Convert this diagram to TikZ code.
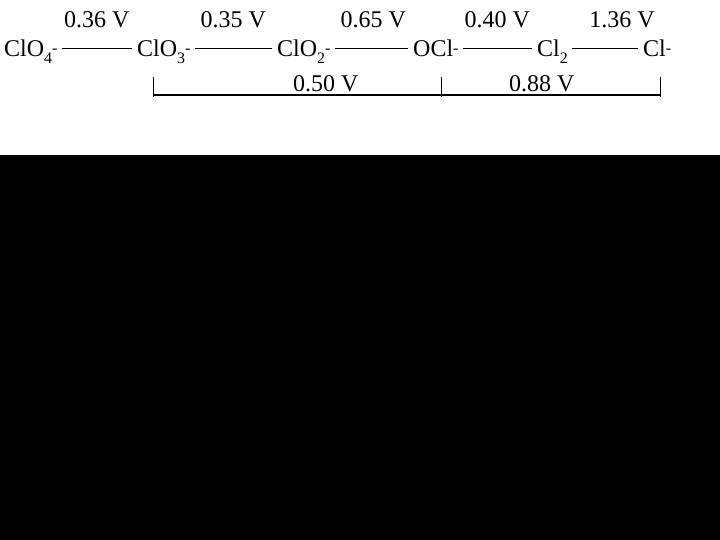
\documentclass[tikz,border=0pt]{standalone}
\usepackage{fontspec}
\setmainfont{Liberation Serif}
\usetikzlibrary{positioning}
\newcommand{\subsc}[1]{\raisebox{-6.5pt}{\fontsize{16}{16}\selectfont #1}}
\newcommand{\supsc}[1]{\raisebox{3.5pt}{\fontsize{16}{16}\selectfont #1}}

\begin{document}
\begin{tikzpicture}[
  x=1pt, y=-1pt,
  species/.style={anchor=base west, inner sep=0pt, font=\fontsize{24}{28}\selectfont},
  pot/.style={anchor=base, inner sep=0pt, font=\fontsize{24}{28}\selectfont},
  bond/.style={line width=0.8pt},
  span/.style={line width=2.6pt},
  tickmark/.style={line width=0.8pt}
]
\useasboundingbox (0,0) rectangle (720,540);
\fill[black] (0,155) rectangle (720,540);

% species
\node[species] (clo4) at (4,57)   {ClO\subsc{4}\supsc{-}};
\node[species] (clo3) at (137,57) {ClO\subsc{3}\supsc{-}};
\node[species] (clo2) at (277,57) {ClO\subsc{2}\supsc{-}};
\node[species] (ocl)  at (413,57) {OCl\supsc{-}};
\node[species] (cl2)  at (537,57) {Cl\subsc{2}};
\node[species] (cl)   at (643,57) {Cl\supsc{-}};

% potentials
\draw[bond] ([xshift=4pt,yshift=9pt]clo4.base east) -- node[pot, yshift=20pt] {0.36 V} ([xshift=-5pt,yshift=9pt]clo3.base west);
\draw[bond] ([xshift=4pt,yshift=9pt]clo3.base east) -- node[pot, yshift=20pt] {0.35 V} ([xshift=-5pt,yshift=9pt]clo2.base west);
\draw[bond] ([xshift=4pt,yshift=9pt]clo2.base east) -- node[pot, yshift=20pt, xshift=2pt] {0.65 V} ([xshift=-5pt,yshift=9pt]ocl.base west);
\draw[bond] ([xshift=4pt,yshift=9pt]ocl.base east) -- node[pot, yshift=20pt] {0.40 V} ([xshift=-5pt,yshift=9pt]cl2.base west);
\draw[bond] ([xshift=4pt,yshift=9pt]cl2.base east) -- node[pot, yshift=20pt, xshift=17pt] {1.36 V} ([xshift=-5pt,yshift=9pt]cl.base west);

% overall potentials
\foreach \x/\n in {153/sa, 441/sb, 660/sc} {
  \coordinate (\n) at (\x,95);
  \draw[tickmark] (\x,77) -- (\x,97);
}
\draw[span] (sa) -- node[pot, pos=0.6, yshift=3pt] {0.50 V} (sb)
                 -- node[pot, pos=0.46, yshift=3pt] {0.88 V} (sc);

\end{tikzpicture}
\end{document}
